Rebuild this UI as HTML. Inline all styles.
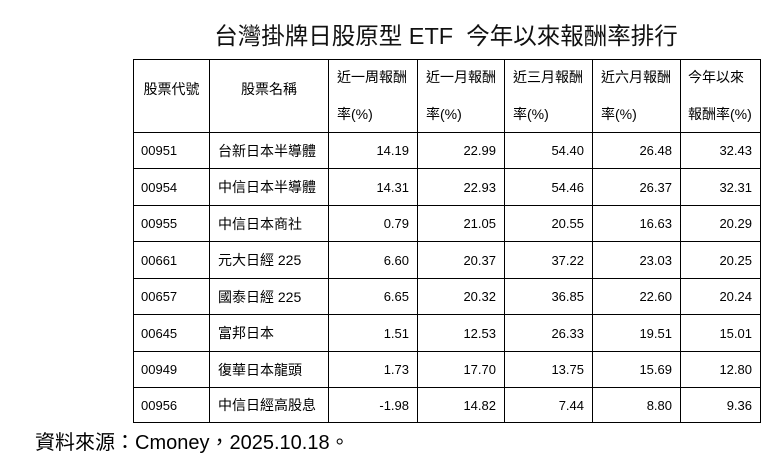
<!DOCTYPE html>
<html>
<head>
<meta charset="utf-8">
<style>
html,body{margin:0;padding:0;background:#fff;}
body{width:775px;height:472px;position:relative;overflow:hidden;font-family:"Liberation Sans","Noto Sans CJK TC",sans-serif;color:#000;}
.t{position:absolute;white-space:nowrap;}
.title{left:96px;width:700px;top:24px;height:24px;line-height:24px;font-size:23.5px;text-align:center;color:#111;}
.foot{left:35px;top:431px;height:24px;line-height:24px;font-size:20px;}
.h1{top:79px;height:20px;line-height:20px;font-size:14px;text-align:center;}
.h2{top:59px;line-height:37px;font-size:14px;}
.cj{font-size:14px;}
.num{font-size:13px;text-align:right;}
.c0{left:141px;font-size:13px;}
.c1{left:218px;}
.c2{left:328px;width:81px;}
.c3{left:417px;width:79px;}
.c4{left:504px;width:80px;}
.c5{left:592px;width:80px;}
.c6{left:680px;width:72px;}
.r1{top:133px;height:36px;line-height:36px;}
.r2{top:169px;height:37px;line-height:37px;}
.r3{top:206px;height:36px;line-height:36px;}
.r4{top:242px;height:37px;line-height:37px;}
.r5{top:279px;height:36px;line-height:36px;}
.r6{top:315px;height:37px;line-height:37px;}
.r7{top:352px;height:36px;line-height:36px;}
.r8{top:388px;height:35px;line-height:35px;}
svg{position:absolute;left:0;top:0;}
</style>
</head>
<body>
<div class="t title">台灣掛牌日股原型 ETF&nbsp; 今年以來報酬率排行</div>

<svg width="775" height="472" viewBox="0 0 775 472">
<g stroke="#000" stroke-width="1" fill="none" shape-rendering="crispEdges">
<line x1="133" y1="59.5" x2="760.5" y2="59.5"/>
<line x1="133" y1="132.5" x2="760.5" y2="132.5"/>
<line x1="133" y1="168.5" x2="760.5" y2="168.5"/>
<line x1="133" y1="205.5" x2="760.5" y2="205.5"/>
<line x1="133" y1="241.5" x2="760.5" y2="241.5"/>
<line x1="133" y1="278.5" x2="760.5" y2="278.5"/>
<line x1="133" y1="314.5" x2="760.5" y2="314.5"/>
<line x1="133" y1="351.5" x2="760.5" y2="351.5"/>
<line x1="133" y1="387.5" x2="760.5" y2="387.5"/>
<line x1="133" y1="422.5" x2="760.5" y2="422.5"/>
<line x1="133.5" y1="59" x2="133.5" y2="423"/>
<line x1="209.5" y1="59" x2="209.5" y2="423"/>
<line x1="328.5" y1="59" x2="328.5" y2="423"/>
<line x1="417.5" y1="59" x2="417.5" y2="423"/>
<line x1="504.5" y1="59" x2="504.5" y2="423"/>
<line x1="592.5" y1="59" x2="592.5" y2="423"/>
<line x1="680.5" y1="59" x2="680.5" y2="423"/>
<line x1="760.5" y1="59" x2="760.5" y2="423"/>
</g>
</svg>

<!-- header -->
<div class="t h1" style="left:133px;width:77px;">股票代號</div>
<div class="t h1" style="left:209px;width:120px;">股票名稱</div>
<div class="t h2" style="left:337px;">近一周報酬<br>率(%)</div>
<div class="t h2" style="left:426px;">近一月報酬<br>率(%)</div>
<div class="t h2" style="left:513px;">近三月報酬<br>率(%)</div>
<div class="t h2" style="left:601px;">近六月報酬<br>率(%)</div>
<div class="t h2" style="left:688px;">今年以來<br>報酬率(%)</div>

<!-- rows -->
<div class="t c0 r1">00951</div><div class="t cj c1 r1">台新日本半導體</div>
<div class="t num c2 r1">14.19</div><div class="t num c3 r1">22.99</div><div class="t num c4 r1">54.40</div><div class="t num c5 r1">26.48</div><div class="t num c6 r1">32.43</div>

<div class="t c0 r2">00954</div><div class="t cj c1 r2">中信日本半導體</div>
<div class="t num c2 r2">14.31</div><div class="t num c3 r2">22.93</div><div class="t num c4 r2">54.46</div><div class="t num c5 r2">26.37</div><div class="t num c6 r2">32.31</div>

<div class="t c0 r3">00955</div><div class="t cj c1 r3">中信日本商社</div>
<div class="t num c2 r3">0.79</div><div class="t num c3 r3">21.05</div><div class="t num c4 r3">20.55</div><div class="t num c5 r3">16.63</div><div class="t num c6 r3">20.29</div>

<div class="t c0 r4">00661</div><div class="t cj c1 r4">元大日經 225</div>
<div class="t num c2 r4">6.60</div><div class="t num c3 r4">20.37</div><div class="t num c4 r4">37.22</div><div class="t num c5 r4">23.03</div><div class="t num c6 r4">20.25</div>

<div class="t c0 r5">00657</div><div class="t cj c1 r5">國泰日經 225</div>
<div class="t num c2 r5">6.65</div><div class="t num c3 r5">20.32</div><div class="t num c4 r5">36.85</div><div class="t num c5 r5">22.60</div><div class="t num c6 r5">20.24</div>

<div class="t c0 r6">00645</div><div class="t cj c1 r6">富邦日本</div>
<div class="t num c2 r6">1.51</div><div class="t num c3 r6">12.53</div><div class="t num c4 r6">26.33</div><div class="t num c5 r6">19.51</div><div class="t num c6 r6">15.01</div>

<div class="t c0 r7">00949</div><div class="t cj c1 r7">復華日本龍頭</div>
<div class="t num c2 r7">1.73</div><div class="t num c3 r7">17.70</div><div class="t num c4 r7">13.75</div><div class="t num c5 r7">15.69</div><div class="t num c6 r7">12.80</div>

<div class="t c0 r8">00956</div><div class="t cj c1 r8">中信日經高股息</div>
<div class="t num c2 r8">-1.98</div><div class="t num c3 r8">14.82</div><div class="t num c4 r8">7.44</div><div class="t num c5 r8">8.80</div><div class="t num c6 r8">9.36</div>

<div class="t foot">資料來源：Cmoney，2025.10.18。</div>
</body>
</html>
